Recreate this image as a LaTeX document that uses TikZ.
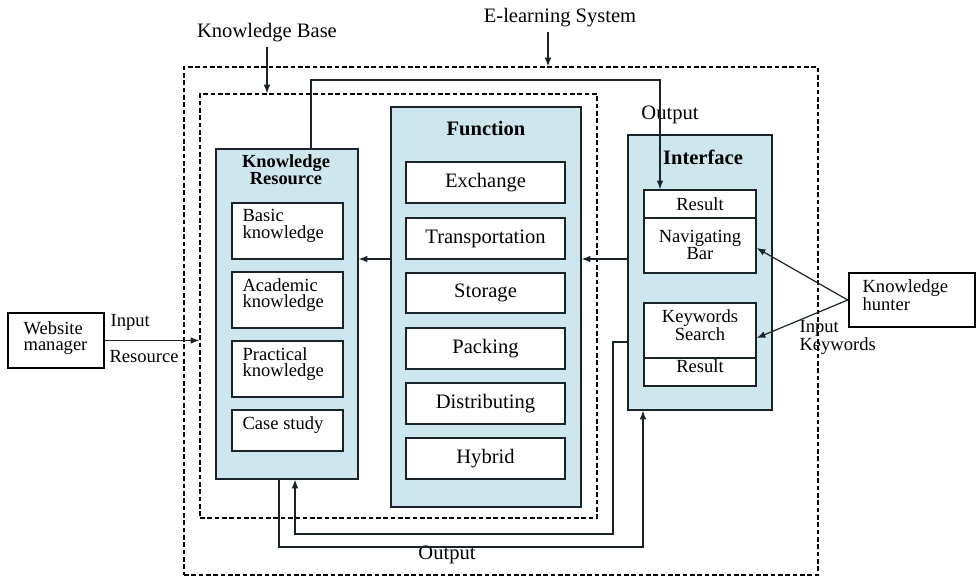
\documentclass[tikz,border=0pt]{standalone}
\usepackage{fontspec}
\setmainfont{Liberation Serif}
\usetikzlibrary{fit,arrows.meta}
\definecolor{panelblue}{RGB}{206,231,239}
\definecolor{linec}{RGB}{25,35,40}
\begin{document}
\begin{tikzpicture}[x=0.75pt,y=-0.75pt,
  dashbox/.style={draw=black, line width=0.9pt, dash pattern=on 3.5pt off 2pt, inner sep=0pt},
  panel/.style={draw=linec, line width=1pt, fill=panelblue, inner sep=0pt},
  subbox/.style={draw=linec, line width=1pt, fill=white, inner sep=0pt},
  actor/.style={draw=black, line width=2pt, fill=white, inner sep=0pt},
  conn/.style={draw=linec, line width=0.9pt},
  arr/.style={conn, -{Latex[length=6.5pt,width=5pt]}},
  big/.style={font=\fontsize{15.4}{13}\selectfont, inner sep=1pt},
  small/.style={font=\fontsize{13.9}{12.6}\selectfont, inner sep=1pt},
  title/.style={font=\fontsize{15.4}{13}\selectfont\bfseries, inner sep=1pt},
  smalltitle/.style={font=\fontsize{13.8}{12}\selectfont\bfseries, align=center, inner sep=1pt}
]
\useasboundingbox[fill=white] (0,0) rectangle (977,581);

% containers
\node[dashbox, fit={(184,67)(818,575)}] (es) {};
\node[dashbox, fit={(200,94)(597,518)}] (kb) {};
\node[big] (esl) at (560,18) {E-learning System};
\node[big] (kbl) at (267,33) {Knowledge Base};

% Knowledge Resource
\node[panel, fit={(216,149)(358,479)}] (kr) {};
\node[smalltitle] (krt) at (286,170) {Knowledge\\Resource};
\node[subbox, fit={(232,203)(343,259)}] (kr1) {};
\node[subbox, fit={(232,272)(343,328)}] (kr2) {};
\node[subbox, fit={(232,341)(343,397)}] (kr3) {};
\node[subbox, fit={(232,410)(343,451)}] (kr4) {};
\node[small, align=left, anchor=west] (kr1t) at (241,226) {Basic\\knowledge};
\node[small, align=left, anchor=west] (kr2t) at (241,295) {Academic\\knowledge};
\node[small, align=left, anchor=west] (kr3t) at (241,364) {Practical\\knowledge};
\node[small, anchor=west] (kr4t) at (241,425) {Case study};

% Function
\node[panel, fit={(391,107)(581,507)}] (fn) {};
\node[title] (fnt) at (486,129) {Function};
\node[subbox, fit={(406,162)(565,203)}] (fn1) {};
\node[subbox, fit={(406,218)(565,259)}] (fn2) {};
\node[subbox, fit={(406,273)(565,313)}] (fn3) {};
\node[subbox, fit={(406,328)(565,369)}] (fn4) {};
\node[subbox, fit={(406,383)(565,424)}] (fn5) {};
\node[subbox, fit={(406,438)(565,479)}] (fn6) {};
\node[big] (fn1t) at (fn1.center) {Exchange};
\node[big] (fn2t) at (fn2.center) {Transportation};
\node[big] (fn3t) at (fn3.center) {Storage};
\node[big] (fn4t) at (fn4.center) {Packing};
\node[big] (fn5t) at (fn5.center) {Distributing};
\node[big] (fn6t) at (fn6.center) {Hybrid};

% Interface
\node[panel, fit={(628,135)(772,410)}] (if) {};
\node[title] (ift) at (703,157) {Interface};
\node[subbox, fit={(644,190)(756,218)}] (res1) {};
\node[subbox, fit={(644,218)(756,273)}] (nav) {};
\node[subbox, fit={(644,303)(756,358)}] (kw) {};
\node[subbox, fit={(644,358)(756,386)}] (res2) {};
\node[small] (res1t) at (700,204) {Result};
\node[small, align=center] (navt) at (700,245) {Navigating\\Bar};
\node[small, align=center] (kwt) at (700,325) {Keywords\\Search};
\node[small] (res2t) at (700,366) {Result};

% actors
\node[actor, fit={(849,273)(975,327)}] (kh) {};
\node[small, align=left, anchor=west] (kht) at (861,295) {Knowledge\\hunter};
\node[actor, fit={(8,313)(104,368)}] (wm) {};
\node[small, align=left, anchor=west] (wmt) at (22,338) {Website\\manager};

% labels
\node[small, anchor=west] (inl) at (109,322) {Input};
\node[small, anchor=west] (resl) at (108,357) {Resource};
\node[small, align=left, anchor=west] (ikl) at (798,337) {Input\\Keywords};
\node[big] (out1) at (670,115) {Output};
\node[big] (out2) at (447,555) {Output};

% coordinates for routes
\coordinate (mid) at (0,259);
\coordinate (t1) at (311,80);
\coordinate (t2) at (660,80);
\coordinate (b1) at (613,342);
\coordinate (b2) at (613,534);
\coordinate (b3) at (295,534);
\coordinate (c1) at (279,547);
\coordinate (c2) at (643,547);

% connectors
\draw[arr] ([xshift=-9pt,yshift=-2pt]esl.south) -- ([xshift=-9pt]esl.south |- es.north);
\draw[arr] ([yshift=-2pt]kbl.south) -- (kbl.south |- kb.north);
\draw[arr] (wm.east) -- (wm.east -| kb.west);
\draw[arr] (fn.west |- mid) -- (kr.east |- mid);
\draw[arr] (if.west |- mid) -- (fn.east |- mid);
\draw[arr] (kr.north -| t1) -- (t1) -- (t2) -- (t2 |- res1.north);
\draw[arr] (if.west |- b1) -- (b1) -- (b2) -- (b3) -- (b3 |- kr.south);
\draw[arr] (kr.south -| c1) -- (c1) -- (c2) -- (c2 |- if.south);
\draw[arr] (kh.west) -- (nav.east |- 0,248);
\draw[arr] (kh.west) -- (kw.east |- 0,338);
\end{tikzpicture}
\end{document}
